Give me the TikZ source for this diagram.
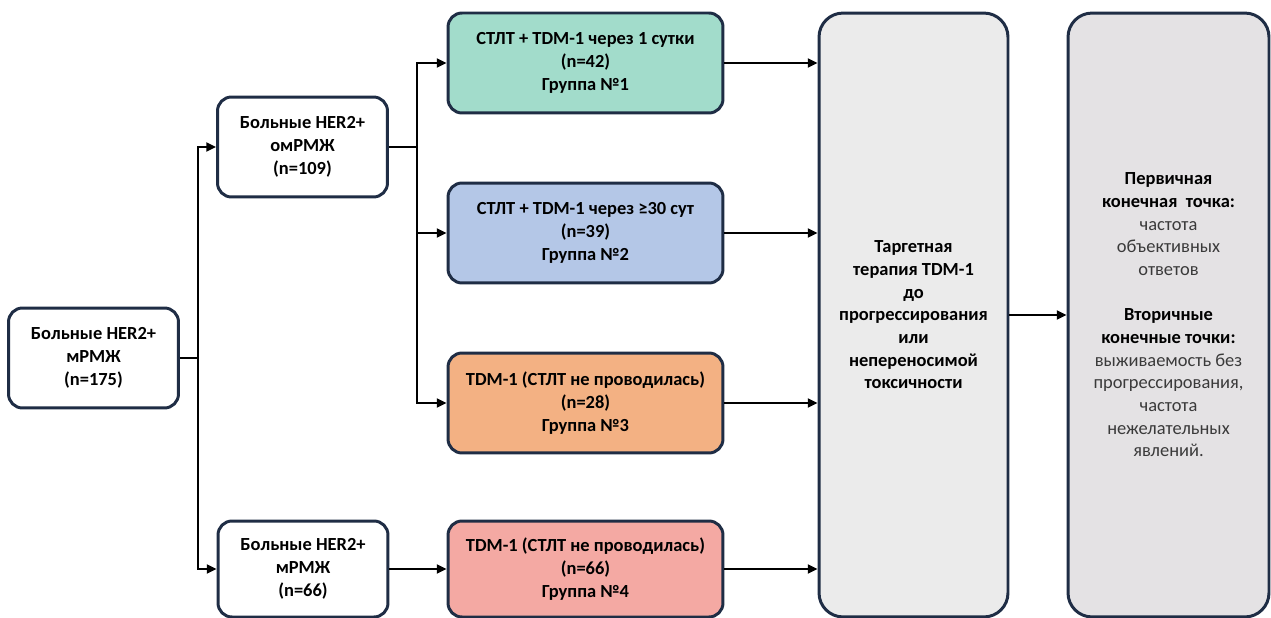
\documentclass[tikz,border=0pt]{standalone}
\usepackage{fontspec}
\setmainfont{Carlito}
\usepackage{xcolor}
\usetikzlibrary{arrows.meta}
\definecolor{edge}{HTML}{1F2D45}
\definecolor{grp1}{HTML}{A2DCCB}
\definecolor{grp2}{HTML}{B4C7E7}
\definecolor{grp3}{HTML}{F3B183}
\definecolor{grp4}{HTML}{F4A9A3}
\definecolor{pane1}{HTML}{EBEBEB}
\definecolor{pane2}{HTML}{E4E2E4}
\definecolor{note}{HTML}{3A3A3A}
\newcommand{\lighttext}[1]{{\mdseries\color{note}#1}}

\begin{document}
\begin{tikzpicture}[x=0.02cm,y=-0.02cm,
  box/.style={draw=edge,line width=1.7pt,rounded corners=0.28cm,align=center,
    font=\fontsize{10.5}{12.9}\selectfont\bfseries,inner sep=0pt},
  patient/.style={box,fill=white,minimum width=3.4cm,minimum height=2cm},
  group/.style={box,minimum width=5.5cm,minimum height=2cm},
  pane/.style={box,rounded corners=0.48cm,minimum height=12.08cm},
  link/.style={line width=1.5pt,-{Triangle[length=5.5pt,width=5pt]}},
  wire/.style={line width=1.5pt}]
\useasboundingbox (0,0) rectangle (1271,618);
\node[patient] (all) at (93.5,358) {Больные HER2+\\мРМЖ\\(n=175)};
\node[patient] (om) at (302.5,147) {Больные HER2+\\омРМЖ\\(n=109)};
\node[patient,minimum height=1.92cm] (m) at (303,569) {Больные HER2+\\мРМЖ\\(n=66)};
\node[group,fill=grp1] (g1) at (585.5,63) {СТЛТ + TDM-1 через 1 сутки\\(n=42)\\Группа №1};
\node[group,fill=grp2] (g2) at (585.5,233) {СТЛТ + TDM-1 через ≥30 сут\\(n=39)\\Группа №2};
\node[group,fill=grp3] (g3) at (585.5,403) {TDM-1 (СТЛТ не проводилась)\\(n=28)\\Группа №3};
\node[group,fill=grp4,minimum height=1.92cm] (g4) at (585.5,569) {TDM-1 (СТЛТ не проводилась)\\(n=66)\\Группа №4};
\node[pane,fill=pane1,minimum width=3.78cm] (ther) at (913.5,315)
  {Таргетная\\терапия TDM-1\\до\\прогрессирования\\или\\непереносимой\\токсичности};
\node[pane,fill=pane2,minimum width=4.02cm] (end) at (1168.5,315)
  {Первичная\\конечная\ \ точка:\\\lighttext{частота}\\\lighttext{объективных}\\\lighttext{ответов}\\[12.9pt]
   Вторичные\\конечные точки:\\\lighttext{выживаемость без}\\\lighttext{прогрессирования,}\\\lighttext{частота}\\
   \lighttext{нежелательных}\\\lighttext{явлений.}};
% branching
\coordinate (j1) at (198,358);
\coordinate (j2) at (417,147);
\draw[wire] (all.east) -- (j1);
\draw[link] (j1) |- (om.west);
\draw[link] (j1) |- (m.west);
\draw[wire] (om.east) -- (j2);
\foreach \g in {g1,g2,g3}
  \draw[link] (j2) |- (\g.west);
\draw[link] (m.east) -- (g4.west);
% into therapy and endpoints
\foreach \g in {g1,g2,g3,g4}
  \draw[link] (\g.east) -- (\g.east -| ther.west);
\draw[link] (ther.east) -- (end.west);
\end{tikzpicture}
\end{document}
